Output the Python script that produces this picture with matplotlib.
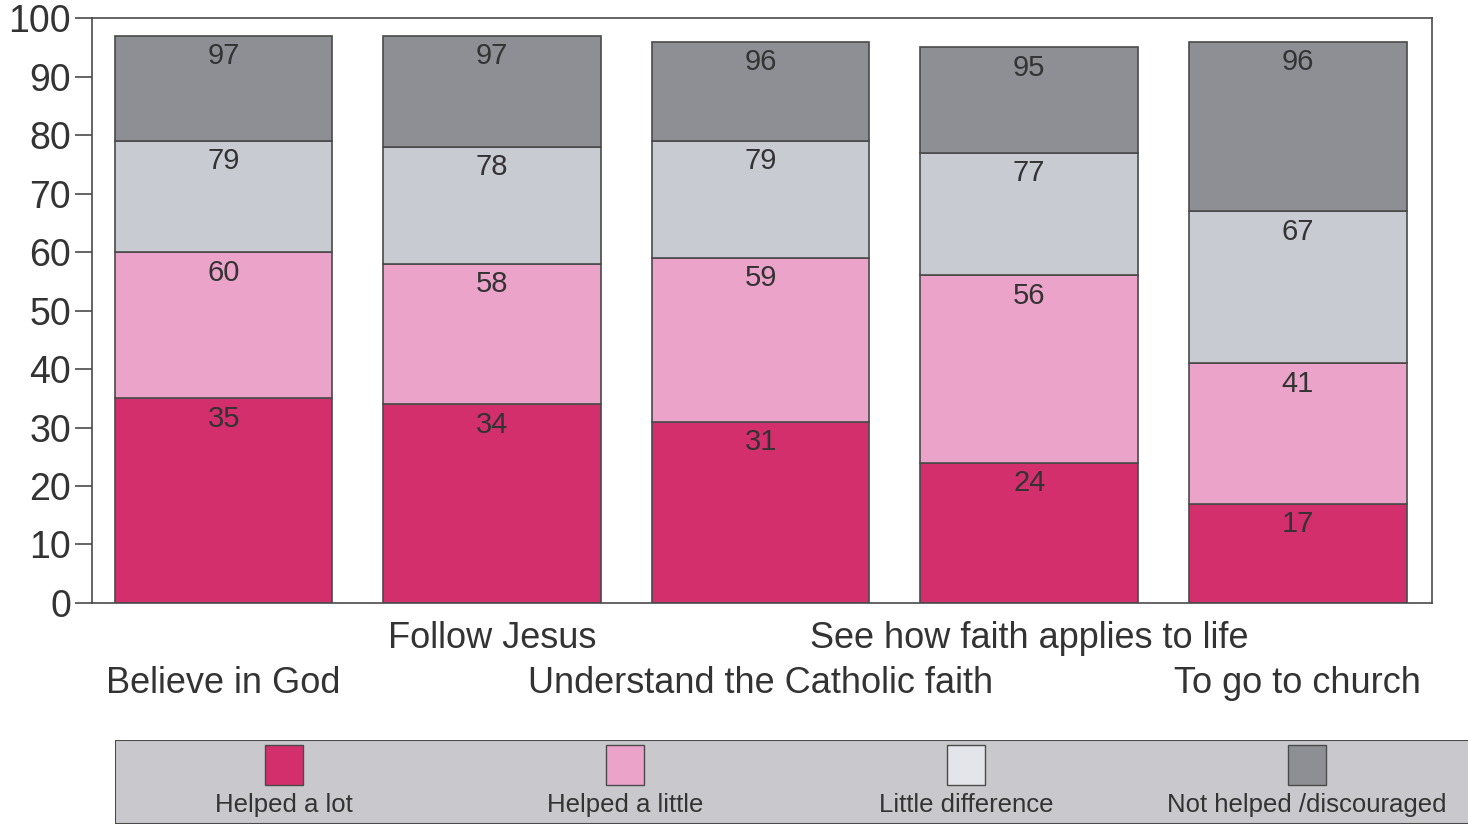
import matplotlib
matplotlib.use("Agg")
import matplotlib.pyplot as plt
from matplotlib.patches import Rectangle
import matplotlib.transforms as mtransforms

categories = ["Believe in God", "Follow Jesus", "Understand the Catholic faith",
              "See how faith applies to life", "To go to church"]
series_names = ["Helped a lot", "Helped a little", "Little difference", "Not helped /discouraged"]
# cumulative values as shown on the chart
helped_lot = [35, 34, 31, 24, 17]
helped_little_cum = [60, 58, 59, 56, 41]
little_diff_cum = [79, 78, 79, 77, 67]
not_helped_cum = [97, 97, 96, 95, 96]
yticks = [0, 10, 20, 30, 40, 50, 60, 70, 80, 90, 100]

colors = ["#d22f6c", "#eba3c9", "#c9cbd3", "#8d8f94"]
edge = "#4a4a4a"
txt = "#333333"

plt.rcParams['font.family'] = ['Liberation Sans', 'DejaVu Sans']

fig = plt.figure(figsize=(14.68, 8.26), dpi=100)
fig.patch.set_facecolor("white")
ax = fig.add_axes([0.0627, 0.270, 0.9128, 0.708])

cum = [helped_lot, helped_little_cum, little_diff_cum, not_helped_cum]
x = list(range(len(categories)))
prev = [0] * len(categories)
for s in range(4):
    heights = [c - p for c, p in zip(cum[s], prev)]
    ax.bar(x, heights, bottom=prev, width=0.81, color=colors[s], edgecolor=edge, linewidth=1.2, zorder=2)
    for i in x:
        ax.text(i, cum[s][i] - 1.1, str(cum[s][i]), ha='center', va='top', fontsize=21, color=txt, zorder=3)
    prev = cum[s]

ax.set_xlim(-0.49, 4.5)
ax.set_ylim(0, 100)
ax.set_yticks(yticks)
ax.set_yticklabels([str(v) for v in yticks], fontsize=27, color=txt)
ax.tick_params(axis='y', length=12, width=1.2, color=edge, direction='out', pad=3)
ax.set_xticks([])
for sp in ax.spines.values():
    sp.set_color(edge)
    sp.set_linewidth(1.2)

trans = mtransforms.blended_transform_factory(ax.transData, ax.transAxes)
for i, cat in enumerate(categories):
    yy = -0.061 if i % 2 == 1 else -0.137
    ax.text(i, yy, cat, transform=trans, ha='center', va='center', fontsize=26, color=txt)

# legend
lax = fig.add_axes([0.0783, 0.003, 0.93, 0.101])
lax.set_xlim(0, 1)
lax.set_ylim(0, 1)
lax.axis('off')
lax.add_patch(Rectangle((0, 0), 1, 1, facecolor="#c9c9cd", edgecolor=edge, linewidth=1.5, transform=lax.transAxes))
for s, name in enumerate(series_names):
    cx = 0.1238 + s * 0.2498
    lax.add_patch(Rectangle((cx - 0.014, 0.46), 0.028, 0.48, facecolor=colors[s] if s != 2 else "#e4e5ea",
                            edgecolor=edge, linewidth=1.0))
    lax.text(cx, 0.22, name, ha='center', va='center', fontsize=18.5, color=txt)

fig.savefig("out.png", dpi=100)
